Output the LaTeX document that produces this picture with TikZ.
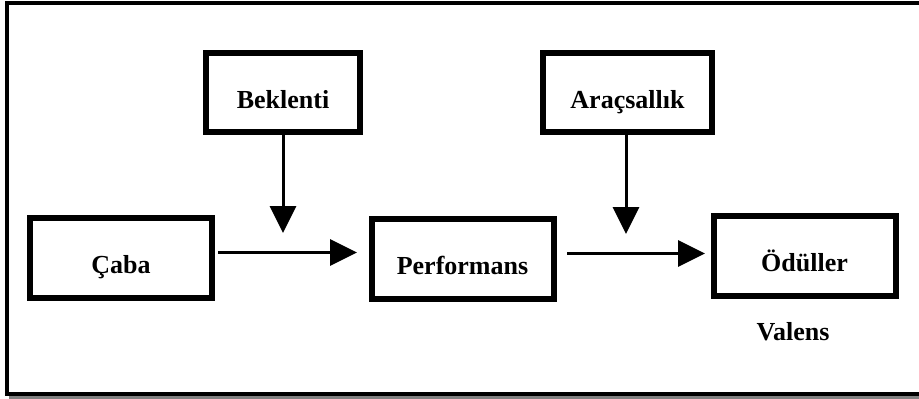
\documentclass[tikz,border=0pt]{standalone}
\usepackage{fontspec}
\setmainfont{Liberation Serif}
\usetikzlibrary{arrows.meta}
\begin{document}
\begin{tikzpicture}[x=1pt,y=-1pt,
  stagebox/.style={draw=black,line width=6pt,fill=white,inner sep=0pt,
    minimum width=182pt,minimum height=80pt,text height=31pt,text depth=0pt,
    font=\fontsize{26}{30}\selectfont\bfseries},
  topbox/.style={stagebox,minimum height=79pt},
  flow/.style={line width=3pt,-{Triangle[length=27pt,width=26pt]}},
  lbl/.style={font=\fontsize{26}{30}\selectfont\bfseries,inner sep=0pt}]
  \useasboundingbox (0,0) rectangle (919,399);
  % framed panel with drop shadow
  \draw[line width=4pt,draw={rgb,255:red,128;green,128;blue,128}] (11,6.5) rectangle (930,398);
  \draw[line width=4pt,fill=white] (7,2.5) rectangle (926,394);
  % stages
  \node[stagebox] (caba) at (121,257.5) {Çaba};
  \node[stagebox] (perf) at (462.5,258.5) {Performans};
  \node[stagebox] (odul) at (804.5,256) {Ödüller};
  \node[topbox,minimum width=154pt] (bek) at (283,92.5) {Beklenti};
  \node[topbox,minimum width=169pt] (arac) at (627.5,92.5) {Araçsallık};
  \node[lbl] (val) at (793,332) {Valens};
  % connectors
  \coordinate (c1s) at (218,252.5);
  \coordinate (c1e) at (357,252.5);
  \coordinate (c2s) at (567,253.5);
  \coordinate (c2e) at (705,253.5);
  \coordinate (b1) at (283,233);
  \coordinate (b2) at (626,234);
  \draw[flow] (c1s) -- (c1e);
  \draw[flow] (c2s) -- (c2e);
  \draw[flow] (bek.south -| b1) -- (b1);
  \draw[flow] (arac.south -| b2) -- (b2);
\end{tikzpicture}
\end{document}
